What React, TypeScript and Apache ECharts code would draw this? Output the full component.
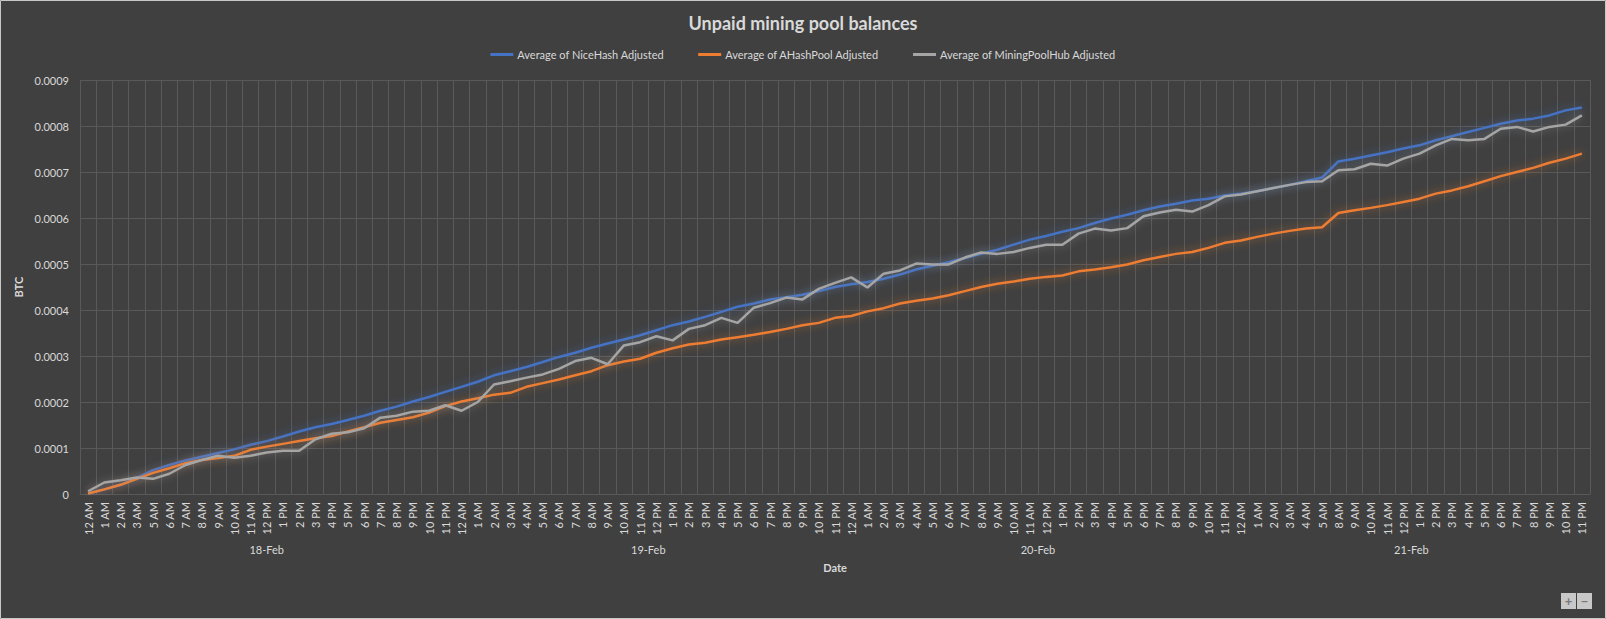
import React, { useEffect, useRef } from "react";
import * as echarts from "echarts";

const title = "Unpaid mining pool balances";
const seriesNames = [
  "Average of NiceHash Adjusted",
  "Average of AHashPool Adjusted",
  "Average of MiningPoolHub Adjusted",
];
const seriesColors = ["#4472C4", "#ED7D31", "#A5A5A5"];

const dates = ["18-Feb", "19-Feb", "20-Feb", "21-Feb"];
const hours18 = ["12 AM","1 AM","2 AM","3 AM","5 AM","6 AM","7 AM","8 AM","9 AM","10 AM","11 AM","12 PM","1 PM","2 PM","3 PM","4 PM","5 PM","6 PM","7 PM","8 PM","9 PM","10 PM","11 PM"];
const hours19 = ["12 AM","1 AM","2 AM","3 AM","4 AM","5 AM","6 AM","7 AM","8 AM","9 AM","10 AM","11 AM","12 PM","1 PM","2 PM","3 PM","4 PM","5 PM","6 PM","7 PM","8 PM","9 PM","10 PM","11 PM"];
const hours20 = ["12 AM","1 AM","2 AM","3 AM","4 AM","5 AM","6 AM","7 AM","8 AM","9 AM","10 AM","11 AM","12 PM","1 PM","2 PM","3 PM","4 PM","5 PM","6 PM","7 PM","8 PM","9 PM","10 PM","11 PM"];
const hours21 = ["12 AM","1 AM","2 AM","3 AM","4 AM","5 AM","8 AM","9 AM","10 AM","11 AM","12 PM","1 PM","2 PM","3 PM","4 PM","5 PM","6 PM","7 PM","8 PM","9 PM","10 PM","11 PM"];
const hoursByDate = [hours18, hours19, hours20, hours21];

const niceHash = [
  0.000001, 0.00001, 0.00002, 0.000035, 0.000052, 0.000063, 0.000073, 0.000081, 0.000089, 0.000097,
  0.000107, 0.000115, 0.000125, 0.000136, 0.000145, 0.000152, 0.000161, 0.00017, 0.000181, 0.00019,
  0.000201, 0.000211, 0.000222, 0.000233, 0.000244, 0.000258, 0.000267, 0.000276, 0.000287, 0.000298,
  0.000307, 0.000318, 0.000327, 0.000336, 0.000345, 0.000356, 0.000367, 0.000375, 0.000385, 0.000396,
  0.000407, 0.000414, 0.000423, 0.000428, 0.000433, 0.000441, 0.00045, 0.000456, 0.000461, 0.000468,
  0.000477, 0.000488, 0.000496, 0.000504, 0.000513, 0.000522, 0.000531, 0.000542, 0.000553, 0.000561,
  0.00057, 0.000578, 0.000589, 0.000599, 0.000607, 0.000617, 0.000625, 0.000631, 0.000638, 0.000642,
  0.000649, 0.000653, 0.000658, 0.000665, 0.000672, 0.00068, 0.000688, 0.000723, 0.000729, 0.000736,
  0.000743, 0.000751, 0.000758, 0.000769, 0.000778, 0.000787, 0.000796, 0.000805, 0.000812, 0.000816,
  0.000823, 0.000834, 0.00084,
];
const aHashPool = [
  0.000001, 0.00001, 0.00002, 0.000033, 0.000046, 0.000056, 0.000067, 0.000074, 0.000078, 0.000083,
  0.000096, 0.000103, 0.000109, 0.000115, 0.000121, 0.000126, 0.000136, 0.000145, 0.000155, 0.000161,
  0.000167, 0.000177, 0.000191, 0.000201, 0.000208, 0.000216, 0.00022, 0.000233, 0.000241, 0.000249,
  0.000258, 0.000267, 0.00028, 0.000288, 0.000294, 0.000307, 0.000317, 0.000325, 0.000329, 0.000336,
  0.000341, 0.000346, 0.000352, 0.000359, 0.000367, 0.000372, 0.000383, 0.000387, 0.000397, 0.000404,
  0.000414, 0.00042, 0.000425, 0.000432, 0.000441, 0.00045, 0.000457, 0.000462, 0.000468, 0.000472,
  0.000475, 0.000484, 0.000488, 0.000493, 0.000499, 0.000508, 0.000515, 0.000522, 0.000526, 0.000535,
  0.000546, 0.000551, 0.000559, 0.000566, 0.000572, 0.000577, 0.00058, 0.000611, 0.000617, 0.000622,
  0.000628, 0.000635, 0.000642, 0.000653, 0.00066, 0.000669, 0.00068, 0.000691, 0.0007, 0.000709,
  0.00072, 0.000729, 0.00074,
];
const miningPoolHub = [
  0.000006, 0.000025, 0.00003, 0.000036, 0.000033, 0.000044, 0.000063, 0.000074, 0.000083, 0.000079,
  0.000083, 0.00009, 0.000094, 0.000094, 0.000119, 0.000131, 0.000134, 0.000143, 0.000166, 0.00017,
  0.000179, 0.000181, 0.000193, 0.000181, 0.0002, 0.000238, 0.000245, 0.000253, 0.00026, 0.000272,
  0.000289, 0.000296, 0.000282, 0.000323, 0.00033, 0.000343, 0.000334, 0.000359, 0.000367, 0.000383,
  0.000372, 0.000405, 0.000415, 0.000427, 0.000423, 0.000446, 0.000459, 0.000471, 0.000449, 0.000479,
  0.000486, 0.000501, 0.000499, 0.000499, 0.000514, 0.000525, 0.000522, 0.000526, 0.000535, 0.000542,
  0.000542, 0.000566, 0.000577, 0.000573, 0.000578, 0.000604, 0.000612, 0.000618, 0.000614, 0.000628,
  0.000647, 0.000651, 0.000658, 0.000665, 0.000672, 0.000678, 0.00068, 0.000704, 0.000706, 0.000718,
  0.000714, 0.000729, 0.00074, 0.000758, 0.000772, 0.000769, 0.000772, 0.000794, 0.000798, 0.000788,
  0.000798, 0.000803, 0.000823,
];
const seriesData = [niceHash, aHashPool, miningPoolHub];

const yTickMin = 0;
const yTickMax = 0.0009;
const yTickStep = 0.0001;

const textColor = "#d9d9d9";
const gridColor = "#595959";
const font = "Lato, 'Noto Sans', sans-serif";

export default function App() {
  const ref = useRef<HTMLDivElement>(null);

  useEffect(() => {
    document.body.style.margin = "0";
    document.body.style.background = "#404040";
    const chart = echarts.init(ref.current!, null, { renderer: "svg" });

    const categories: string[] = [];
    const groupCenters: number[] = [];
    let start = 0;
    hoursByDate.forEach((hrs, d) => {
      hrs.forEach((h) => categories.push(dates[d] + "|" + h));
      groupCenters.push(start + (hrs.length - 1) / 2);
      start += hrs.length;
    });
    const n = categories.length;

    const option: any = {
      animation: false,
      backgroundColor: "#404040",
      textStyle: { fontFamily: font },
      title: {
        text: title,
        left: "center",
        top: 9,
        textStyle: { color: textColor, fontSize: 18, fontWeight: "bold", fontFamily: font },
      },
      legend: {
        top: 44,
        left: "center",
        icon: "rect",
        itemWidth: 23,
        itemHeight: 3,
        itemGap: 34,
        textStyle: { color: textColor, fontSize: 11, fontFamily: font, padding: [0, 0, 0, -1] },
        data: seriesNames,
      },
      grid: { left: 80, right: 16, top: 80, bottom: 125 },
      xAxis: [
        {
          type: "category",
          data: categories,
          boundaryGap: true,
          axisLine: { show: true, lineStyle: { color: gridColor } },
          axisTick: { show: false },
          splitLine: { show: true, interval: 0, lineStyle: { color: gridColor, width: 1 } },
          axisLabel: {
            interval: 0,
            rotate: 90,
            margin: 8,
            color: textColor,
            fontSize: 11,
            fontFamily: font,
            formatter: (v: string) => v.split("|")[1],
          },
        },
        {
          type: "value",
          position: "bottom",
          offset: 48,
          min: -0.5,
          max: n - 0.5,
          axisLine: { show: false },
          axisTick: { show: false },
          splitLine: { show: false },
          name: "Date",
          nameLocation: "middle",
          nameGap: 20,
          nameTextStyle: { color: textColor, fontSize: 11, fontWeight: "bold", fontFamily: font },
          axisLabel: {
            customValues: groupCenters,
            margin: 2,
            color: textColor,
            fontSize: 11,
            fontFamily: font,
            formatter: (v: number) => {
              const idx = groupCenters.findIndex((c) => Math.abs(c - v) < 0.01);
              return idx >= 0 ? dates[idx] : "";
            },
          },
        },
      ],
      yAxis: {
        type: "value",
        min: yTickMin,
        max: yTickMax,
        interval: yTickStep,
        name: "BTC",
        nameLocation: "middle",
        nameRotate: 90,
        nameGap: 42,
        nameTextStyle: { color: textColor, fontSize: 11, fontWeight: "bold", fontFamily: font },
        axisLine: { show: false },
        axisTick: { show: false },
        splitLine: { show: true, lineStyle: { color: gridColor, width: 1 } },
        axisLabel: {
          color: textColor,
          fontSize: 11,
          fontFamily: font,
          margin: 11,
          formatter: (v: number) => (v === 0 ? "0" : v.toFixed(4)),
        },
      },
      series: seriesNames.map((name, k) => ({
        name,
        type: "line",
        xAxisIndex: 0,
        data: seriesData[k],
        showSymbol: false,
        symbol: "none",
        color: seriesColors[k],
        lineStyle: {
          color: seriesColors[k],
          width: 2.5,
          shadowBlur: 8,
          shadowColor: echarts.color.modifyAlpha(seriesColors[k], 0.55),
        },
      })),
      graphic: [
        {
          type: "rect",
          silent: true,
          shape: { x: 0.5, y: 0.5, width: 1605, height: 618 },
          style: { fill: "none", stroke: "#c8c8c8", lineWidth: 1 },
        },
        {
          type: "group",
          right: 14,
          bottom: 10,
          children: [
            { type: "rect", shape: { x: 0, y: 0, width: 15, height: 16 }, style: { fill: "#c8c8c8" } },
            { type: "rect", shape: { x: 16, y: 0, width: 15, height: 16 }, style: { fill: "#c8c8c8" } },
            { type: "text", x: 7.5, y: 8, style: { text: "+", fill: "#7a7a7a", fontSize: 13, fontWeight: "bold", align: "center", verticalAlign: "middle", fontFamily: font } },
            { type: "text", x: 23.5, y: 8, style: { text: "−", fill: "#7a7a7a", fontSize: 13, fontWeight: "bold", align: "center", verticalAlign: "middle", fontFamily: font } },
          ],
        },
      ],
    };

    chart.setOption(option);
    return () => chart.dispose();
  }, []);

  return <div ref={ref} style={{ width: 1606, height: 619 }} />;
}
